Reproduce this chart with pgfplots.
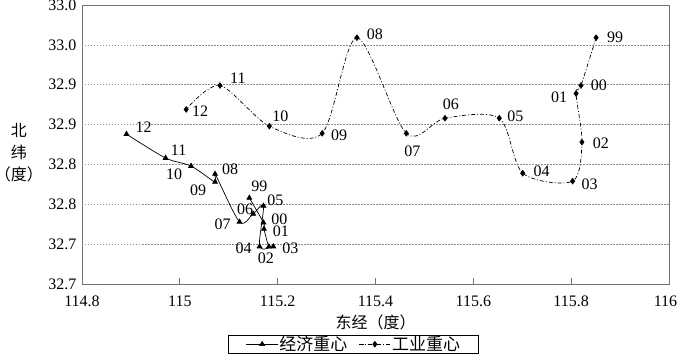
\documentclass[border=0pt]{standalone}
\usepackage{fontspec}
\setmainfont{Liberation Serif}
\newfontfamily\cjk{Noto Sans CJK SC}
\usepackage{pgfplots}
\usepackage{pgfplotstable}
\pgfplotsset{compat=1.18}

\pgfplotstableread{
lab x y dx dy
99 115.142 32.758 10 12
00 115.171 32.727 16 3
01 115.172 32.719 17 -2
02 115.182 32.697 -3 -12
03 115.191 32.697 17 -2
04 115.163 32.697 -16 -2
05 115.171 32.748 12 6
06 115.150 32.738 -8 5
07 115.122 32.728 -17 -2
08 115.072 32.788 15 5
09 115.072 32.778 -17 -8
10 115.023 32.798 -17 -8
11 114.971 32.808 13 8
12 114.891 32.838 17 7
}\econ

\pgfplotstableread{
lab x y dx dy
99 115.851 32.959 19 0
00 115.820 32.899 18 0
01 115.810 32.889 -17 -4
02 115.822 32.828 19 -1
03 115.803 32.779 17 -3
04 115.701 32.789 19 2
05 115.653 32.858 16 2
06 115.542 32.858 6 14
07 115.463 32.839 6 -18
08 115.362 32.959 18 3
09 115.291 32.839 17 -2
10 115.183 32.848 11 10
11 115.082 32.899 18 7
12 115.013 32.869 14 -2
}\indus

\begin{document}
\begin{tikzpicture}[font=\fontsize{16}{19}\selectfont]
\begin{axis}[
  scale only axis, width=587pt, height=279pt,
  at={(0,0)}, anchor=south west,
  xmin=114.8, xmax=116, ymin=32.65, ymax=33.0,
  xtick={114.8,115,115.2,115.4,115.6,115.8,116},
  xticklabels={114.8,115,115.2,115.4,115.6,115.8,\hspace*{-7pt}116},
  ytick={32.65,32.70,32.75,32.80,32.85,32.90,32.95,33.00},
  yticklabels={32.7,32.7,32.8,32.8,32.9,32.9,33.0,33.0},
  xticklabel style={yshift=-8pt},
  yticklabel style={xshift=-2pt},
  axis line style={draw=black!55, line width=0.8pt},
  ymajorgrids,
  major grid style={draw=black!45, dash pattern=on 1.5pt off 1.5pt, line width=0.7pt},
  xtick pos=bottom, ytick pos=left,
  tick align=inside,
  major tick length=6pt,
  ytick style={draw=none},
  xtick style={draw=black!55, line width=0.8pt},
  clip=false,
  xlabel={\cjk 东经（度）},
  xlabel style={at={(rel axis cs:0.5,0)}, anchor=center, yshift=-38pt},
  legend style={at={(0.4625,-0.1828)}, anchor=north, legend columns=2,
    draw=black, line width=0.6pt, inner xsep=17pt, inner ysep=0pt,
    nodes={inner sep=1pt},
    font=\cjk\fontsize{17}{19}\selectfont,
    /tikz/every even column/.append style={column sep=10pt}},
  legend image code/.code={\draw[mark repeat=2,mark phase=2,#1] plot coordinates {(0pt,0pt) (16pt,0pt) (32pt,0pt)};},
  nodes near coords,
  point meta=explicit symbolic,
  visualization depends on={\thisrow{dx} \as \ldx},
  visualization depends on={\thisrow{dy} \as \ldy},
  every node near coord/.append style={anchor=center, xshift=\ldx pt, yshift=\ldy pt,
    font=\fontsize{16}{19}\selectfont, text=black, inner sep=0pt},
]
\addplot[black, line width=0.7pt, smooth, mark=triangle*, mark size=2.8pt, mark options={solid}]
  table[x=x, y=y, meta=lab]{\econ};
\addlegendentry{经济重心}
\addplot[black, line width=0.7pt, smooth, dash pattern=on 4pt off 2pt on 1pt off 2pt,
  mark=diamond*, mark size=2.8pt, mark options={solid}]
  table[x=x, y=y, meta=lab]{\indus};
\addlegendentry{工业重心}
\node[align=center, font=\cjk\fontsize{16}{22}\selectfont] at ([xshift=-63pt, yshift=-1pt]rel axis cs:0,0.473) {北\\纬\\（度）};
\end{axis}
\pgfresetboundingbox
\path[use as bounding box] (-82pt,-74pt) rectangle (597pt,284pt);
\end{tikzpicture}
\end{document}
